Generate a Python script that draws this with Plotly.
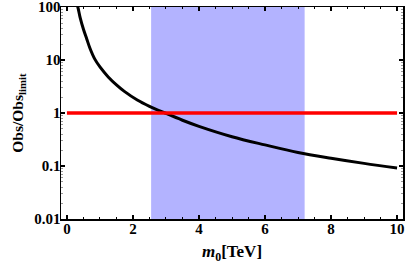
import plotly.graph_objects as go

# Black curve: values
m0_tev = [0.28, 0.33, 0.4, 0.5, 0.6, 0.7, 0.84, 1.0, 1.25, 1.5, 1.75, 2.13, 2.5, 2.97, 3.5, 4.0, 5.0, 6.0, 7.0, 8.0, 9.0, 10.0]
obs_ratio = [125, 100, 63, 38, 25, 16.5, 10.5, 7.4, 4.8, 3.4, 2.53, 1.76, 1.34, 1.0, 0.73, 0.56, 0.357, 0.25, 0.18, 0.14, 0.112, 0.092]

# Red limit line
limit_x = [0, 10]
limit_y = [1, 1]

# Blue allowed band
band_lo = 2.55
band_hi = 7.2

# Ticks
x_ticks = [0, 2, 4, 6, 8, 10]
y_ticks = [0.01, 0.1, 1, 10, 100]
y_ticktext = ["0.01", "0.1", "1", "10", "100"]
y_minor = [k * 10.0 ** e for e in range(-2, 2) for k in range(2, 10)]

FONT = "Liberation Serif"

fig = go.Figure()

fig.add_shape(type="rect", xref="x", yref="paper", x0=band_lo, x1=band_hi, y0=0, y1=1,
              fillcolor="#b3b3ff", line=dict(width=0), layer="below")

fig.add_trace(go.Scatter(x=m0_tev, y=obs_ratio, mode="lines",
                         line=dict(color="black", width=3, shape="spline"),
                         showlegend=False, hoverinfo="skip"))
fig.add_trace(go.Scatter(x=limit_x, y=limit_y, mode="lines",
                         line=dict(color="#ff0000", width=3.5),
                         showlegend=False, hoverinfo="skip"))

fig.update_layout(
    width=407, height=264,
    margin=dict(l=61, r=4, t=7, b=45, autoexpand=False),
    paper_bgcolor="white", plot_bgcolor="white",
    font=dict(family=FONT, size=15, color="black"),
)

fig.update_xaxes(
    range=[-0.18, 10.18], tickvals=x_ticks, automargin=False,
    showgrid=False, zeroline=False,
    showline=True, linecolor="black", linewidth=1.5, mirror="ticks",
    ticks="inside", ticklen=4, tickwidth=1.2, tickcolor="black",
    minor=dict(dtick=0.5, ticks="inside", ticklen=2, tickwidth=1, tickcolor="black"),
    tickfont=dict(family=FONT, size=15, color="black", weight="bold"),
    ticklabeloverflow="allow", ticklabelstandoff=-5,
    title=dict(text="<i>m</i><sub>0</sub>[TeV]", standoff=23,
               font=dict(family=FONT, size=17, color="black", weight="bold")),
)

fig.update_yaxes(
    type="log", range=[-2.001, 2.001], automargin=False,
    tickvals=y_ticks, ticktext=y_ticktext,
    showgrid=False, zeroline=False,
    showline=True, linecolor="black", linewidth=1.5, mirror="ticks",
    ticks="inside", ticklen=4, tickwidth=1.2, tickcolor="black",
    minor=dict(tickvals=y_minor, ticks="inside", ticklen=2, tickwidth=1, tickcolor="#999999"),
    tickfont=dict(family=FONT, size=15, color="black", weight="bold"),
    ticklabeloverflow="allow", ticklabelstandoff=-4,
    title=dict(text="Obs/Obs<sub>limit</sub>", standoff=7,
               font=dict(family=FONT, size=15.5, color="black", weight="bold")),
)

fig.write_html("out.html", config={"displayModeBar": False, "staticPlot": True},
               post_script="document.body.style.margin='0';document.body.style.overflow='hidden';")
